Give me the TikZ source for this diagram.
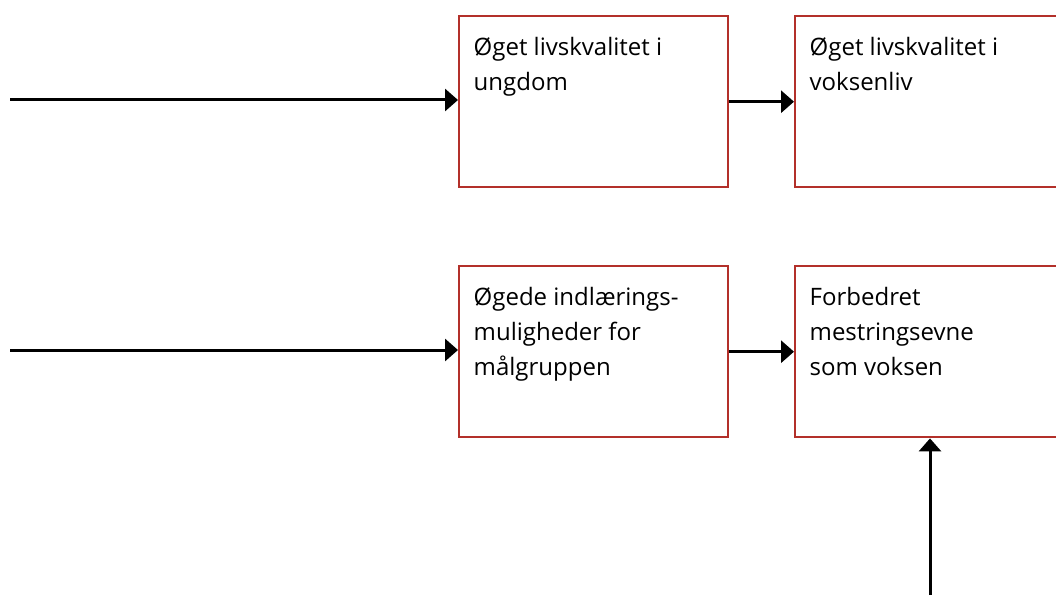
\documentclass[tikz,border=0pt]{standalone}
\usepackage{fontspec}
\setmainfont{Open Sans}[Scale=1]
\usetikzlibrary{arrows.meta}
\definecolor{boxred}{HTML}{B3302A}
\tikzset{
  outbox/.style={draw=boxred, line width=2.4pt, minimum width=269pt, minimum height=171pt,
    inner xsep=14pt, inner ysep=15pt, anchor=north west, font=\fontsize{24}{35}\selectfont},
  flow/.style={draw=black, line width=3pt, -{Triangle[length=13pt,width=22pt]}}
}
\newcommand{\boxtext}[1]{\parbox[c][141pt][t]{240pt}{\raggedright\strut #1}}
\begin{document}
\begin{tikzpicture}[x=1pt,y=1pt]
\useasboundingbox (0,0) rectangle (1056,595);
\node[outbox] (b1) at (458,580) {\boxtext{Øget livskvalitet i\\ungdom}};
\node[outbox] (b2) at (794,580) {\boxtext{Øget livskvalitet i\\voksenliv}};
\node[outbox] (b3) at (458,330) {\boxtext{Øgede indlærings-\\muligheder for\\målgruppen}};
\node[outbox] (b4) at (794,330) {\boxtext{Forbedret\\mestringsevne\\som voksen}};
\coordinate (s1) at (10,495);
\coordinate (s2) at (10,245);
\coordinate (s3) at (930,0);
\draw[flow] (s1) -- (s1 -| b1.west);
\draw[flow] (b1.east) -- (b2.west);
\draw[flow] (s2) -- (s2 -| b3.west);
\draw[flow] (b3.east) -- (b4.west);
\draw[flow] (s3) -- (s3 |- b4.south);
\end{tikzpicture}
\end{document}
